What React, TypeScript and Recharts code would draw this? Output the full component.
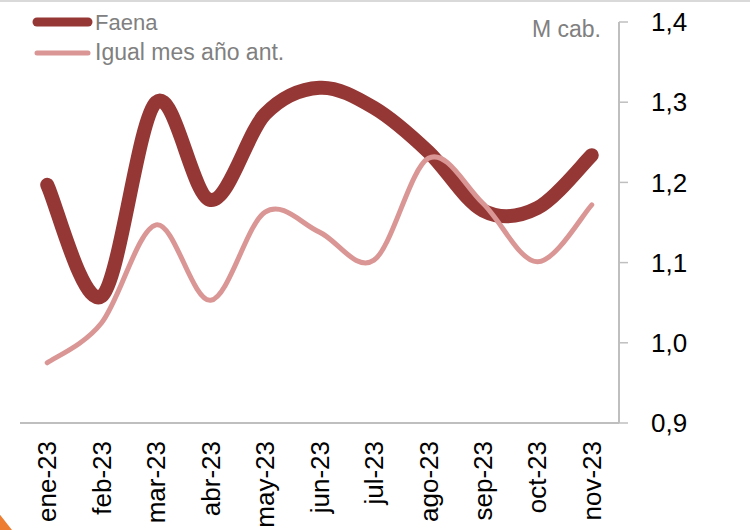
import React from 'react';
import { LineChart, Line, XAxis, YAxis, Legend } from 'recharts';

const months = ['ene-23', 'feb-23', 'mar-23', 'abr-23', 'may-23', 'jun-23', 'jul-23', 'ago-23', 'sep-23', 'oct-23', 'nov-23'];
const faena = [1.197, 1.058, 1.3, 1.178, 1.285, 1.318, 1.293, 1.238, 1.165, 1.168, 1.234];
const igualMes = [0.975, 1.025, 1.147, 1.053, 1.163, 1.138, 1.103, 1.23, 1.174, 1.101, 1.172];
const yTicks = [0.9, 1.0, 1.1, 1.2, 1.3, 1.4];
const seriesNames = ['Faena', 'Igual mes año ant.'];
const unitLabel = 'M cab.';

const data = months.map((m, i) => ({ x: i + 0.5, month: m, faena: faena[i], igual: igualMes[i] }));
const boundaryTicks = months.map((_, i) => i).concat(months.length);
const labelTicks = data.map((d) => d.x);

const FONT = '"Liberation Sans", Arial, sans-serif';
const DARK = '#953735';
const PINK = '#D99694';
const AXIS = '#BFBFBF';

function excelSmooth(context: any) {
  let pts: number[][] = [];
  return {
    areaStart() {},
    areaEnd() {},
    lineStart() {
      pts = [];
    },
    point(x: number, y: number) {
      pts.push([+x, +y]);
    },
    lineEnd() {
      const n = pts.length;
      if (!n) return;
      context.moveTo(pts[0][0], pts[0][1]);
      for (let i = 0; i < n - 1; i++) {
        const p0 = pts[i - 1] || pts[i];
        const p1 = pts[i];
        const p2 = pts[i + 1];
        const p3 = pts[i + 2] || p2;
        context.bezierCurveTo(
          p1[0] + (p2[0] - p0[0]) / 6,
          p1[1] + (p2[1] - p0[1]) / 6,
          p2[0] - (p3[0] - p1[0]) / 6,
          p2[1] - (p3[1] - p1[1]) / 6,
          p2[0],
          p2[1]
        );
      }
    },
  };
}

const MonthTick = (props: any) => {
  const { x, y, payload } = props;
  return (
    <text
      x={x}
      y={y}
      transform={`rotate(-90 ${x} ${y})`}
      textAnchor="end"
      dy="0.35em"
      fontSize={26}
      fill="#000"
      fontFamily={FONT}
    >
      {months[Math.floor(payload.value)]}
    </text>
  );
};

const UnitLabel = (props: any) => {
  const vb = props.viewBox || {};
  return (
    <text x={vb.x - 18} y={vb.y + 15} textAnchor="end" fontSize={23} fill="#808080" fontFamily={FONT}>
      {unitLabel}
    </text>
  );
};

const renderLegend = () => (
  <svg width={320} height={70} style={{ display: 'block' }}>
    <line x1={37} x2={88} y1={22} y2={22} stroke={DARK} strokeWidth={9} strokeLinecap="round" />
    <text x={95} y={30} fontSize={22} fill="#808080" fontFamily={FONT}>
      {seriesNames[0]}
    </text>
    <line x1={37} x2={88} y1={53} y2={53} stroke={PINK} strokeWidth={5} strokeLinecap="round" />
    <text x={95} y={60} fontSize={23} fill="#808080" fontFamily={FONT}>
      {seriesNames[1]}
    </text>
  </svg>
);

export default function App() {
  return (
    <div style={{ position: 'absolute', left: 0, top: 0, width: 750, height: 530, background: '#fff', overflow: 'hidden', fontFamily: FONT }}>
      <div style={{ position: 'absolute', left: 0, top: 0, width: 750, height: 2, background: '#D9D9D9' }} />
      <div
        style={{
          position: 'absolute',
          left: 0,
          top: 512,
          width: 12,
          height: 18,
          background: '#ED7D31',
          clipPath: 'polygon(0 15%, 100% 100%, 0 100%)',
        }}
      />
      <LineChart width={750} height={530} data={data} margin={{ top: 22, right: 0, left: 20, bottom: 0 }}>
        <XAxis
          xAxisId="b"
          type="number"
          dataKey="x"
          domain={[0, months.length]}
          ticks={boundaryTicks}
          interval={0}
          tick={false}
          tickSize={9}
          height={9}
          axisLine={{ stroke: AXIS, strokeWidth: 2 }}
          tickLine={{ stroke: AXIS, strokeWidth: 1.5 }}
        />
        <XAxis
          xAxisId="l"
          type="number"
          dataKey="x"
          domain={[0, months.length]}
          ticks={labelTicks}
          interval={0}
          axisLine={false}
          tickLine={false}
          tickSize={0}
          tickMargin={9}
          height={98}
          tick={<MonthTick />}
        />
        <YAxis
          orientation="right"
          domain={[0.9, 1.4]}
          ticks={yTicks}
          interval={0}
          width={131}
          axisLine={{ stroke: AXIS, strokeWidth: 2 }}
          tickLine={{ stroke: AXIS, strokeWidth: 1.5 }}
          tickSize={9}
          tickMargin={23}
          tick={{ fill: '#000', fontSize: 26, fontFamily: FONT }}
          tickFormatter={(v: number) => v.toFixed(1).replace('.', ',')}
          label={<UnitLabel />}
        />
        <Legend
          layout="vertical"
          align="center"
          verticalAlign="middle"
          content={renderLegend}
          wrapperStyle={{ left: 0, top: 0, width: 320, height: 70 }}
        />
        <Line
          xAxisId="b"
          type={excelSmooth as any}
          dataKey="faena"
          name={seriesNames[0]}
          stroke={DARK}
          strokeWidth={14}
          strokeLinecap="round"
          strokeLinejoin="round"
          dot={false}
          activeDot={false}
          isAnimationActive={false}
        />
        <Line
          xAxisId="b"
          type={excelSmooth as any}
          dataKey="igual"
          name={seriesNames[1]}
          stroke={PINK}
          strokeWidth={5}
          strokeLinecap="round"
          strokeLinejoin="round"
          dot={false}
          activeDot={false}
          isAnimationActive={false}
        />
      </LineChart>
    </div>
  );
}
